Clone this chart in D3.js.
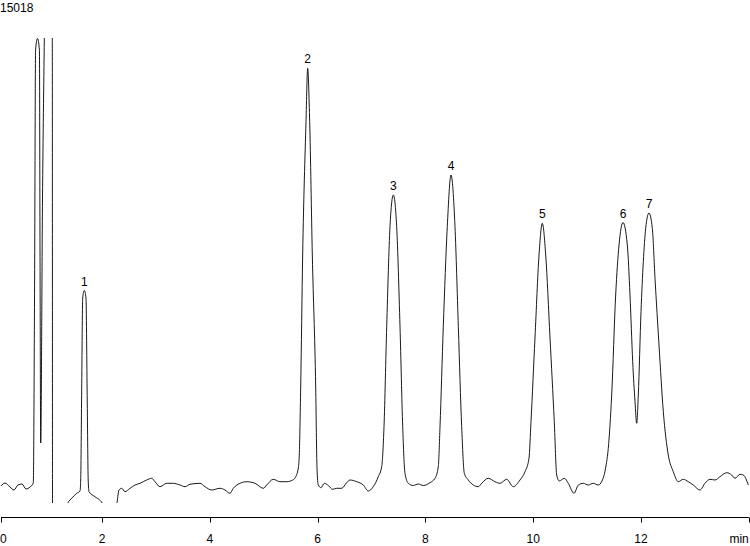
<!DOCTYPE html>
<html>
<head>
<meta charset="utf-8">
<script src="https://cdn.jsdelivr.net/npm/d3@7"></script>
<style>
  html, body { margin: 0; padding: 0; background: #fff; }
  svg { display: block; }
  text { font-family: "Liberation Sans", Arial, Helvetica, sans-serif; fill: #000; }
</style>
</head>
<body>
<svg id="chart" width="750" height="546"></svg>
<script>
// ---- Data ----
const sampleLabel = "15018";

// retention time (min)
const timeMin = [
  0.126, 0.200, 0.293, 0.367, 0.441, 0.516, 0.590, 0.664, 0.725,
  0.748, 0.768, 0.803, 0.839, 0.850, 0.863, 0.896, 0.930, 0.961, 1.045, 1.078,
  1.082, 1.184, 1.295, 1.364, 1.443, 1.531, 1.592,
  1.605, 1.623, 1.642, 1.672, 1.703, 1.724, 1.744, 1.759, 1.870, 2.006,
  2.074, 2.185, 2.273, 2.315, 2.366, 2.427, 2.520, 2.612, 2.705, 2.829,
  2.922, 2.983, 3.076, 3.200, 3.323, 3.447, 3.540, 3.633, 3.818, 3.911,
  4.035, 4.189, 4.282, 4.375, 4.436, 4.560, 4.685, 4.839, 4.993, 5.056,
  5.178, 5.302, 5.427, 5.538,
  5.581, 5.642, 5.660, 5.686, 5.723, 5.785, 5.816, 5.853, 5.902, 5.965,
  5.989, 6.013, 6.063, 6.124, 6.199, 6.280, 6.354, 6.447, 6.540, 6.601,
  6.725, 6.848, 6.940, 7.033, 7.126, 7.189,
  7.232, 7.282, 7.343, 7.405, 7.467, 7.529, 7.579, 7.621, 7.683, 7.776,
  7.868, 7.961, 8.085, 8.178, 8.239,
  8.271, 8.332, 8.406, 8.475, 8.549, 8.611, 8.673, 8.722, 8.796, 8.889,
  8.981, 9.044, 9.167, 9.291, 9.384, 9.508, 9.631, 9.755, 9.848,
  9.922, 9.959, 10.033, 10.108, 10.169, 10.232, 10.312, 10.391, 10.436, 10.484,
  10.577, 10.651, 10.757, 10.837, 10.929, 11.022, 11.115, 11.208,
  11.276, 11.350, 11.393, 11.456, 11.530, 11.592, 11.666, 11.746, 11.796, 11.846,
  11.889, 11.920, 11.950, 12.000, 12.043, 12.087, 12.148, 12.210, 12.260, 12.334,
  12.414, 12.506, 12.599, 12.692, 12.785, 12.877, 12.970, 13.095, 13.187, 13.280,
  13.373, 13.465, 13.590, 13.682, 13.744, 13.836, 13.898, 13.991
];

// detector signal (mV)
const signalMV = [
  7, 10, 6, 3, 8, 9, 4, 6, 10,
  193, 443, 454.5, 443, 243, 50, 293, 455, 593, 593, 455,
  -17, -37, -22, -10.3, -5, -0.3, 2,
  13, 103, 195, 202.5, 195, 103, 13, 1.3, -3.7, -10.3,
  -19, -21, -11.3, 3, 4.7, 1.3, 4.7, 8, 9.7, 13,
  14.7, 11.3, 6.3, 9.7, 9.7, 8, 6.3, 8.7, 9.7, 6.3,
  3, 4.7, 3, -0.3, 4.7, 9.7, 11.3, 9.7, 4.7, 8,
  13.7, 11.3, 11.3, 13,
  15, 25, 38, 105, 238, 371.3, 424.7, 371.3, 238, 105,
  25, 8, 5.3, 9.7, 7.5, 3.7, 4.7, 4.7, 10.3, 13,
  11.3, 8, 2, 6.3, 16.3, 26.3,
  66.3, 166.3, 266.3, 298, 266.3, 166.3, 66.3, 19.7, 9.7, 7.5,
  9, 7.5, 10.3, 14.7, 26.3,
  66.3, 166.3, 266.3, 318, 266.3, 166.3, 66.3, 19.7, 13, 8,
  6.3, 9.7, 14.7, 11.3, 9.7, 13.7, 6.3, 13, 21.3,
  34.7, 71.3, 155, 238, 269.7, 238, 155, 71.3, 18, 12,
  14.7, 9.7, -0.3, 8, 9.7, 8, 9.7, 8,
  12, 27, 44.7, 98, 198, 248, 270.5, 248, 198, 131.3,
  91.3, 69.7, 98, 181.3, 231.3, 264.7, 280, 264.7, 214.7, 148,
  81.3, 38, 21.3, 11.3, 13.7, 11.3, 8, 3, 9.7, 13.7,
  13, 16.3, 20.3, 18, 14.7, 18.7, 18, 8
];

// numbered peaks
const peakNames = ["1", "2", "3", "4", "5", "6", "7"];
const peakTimes = [1.672, 5.816, 7.405, 8.475, 10.169, 11.666, 12.148];
const peakSignals = [202.5, 424.7, 298, 318, 269.7, 270.5, 280];

// axis
const xTickValues = [0, 2, 4, 6, 8, 10, 12, 14];
const xTickLabels = ["0", "2", "4", "6", "8", "10", "12", "min"];
const axisStartMin = 0.126;

// ---- Layout ----
const W = 750, H = 546;
const svg = d3.select("#chart");

const x = d3.scaleLinear().domain([0, 14]).range([-5.8, 748.8]);
const y = d3.scaleLinear().domain([-10, 455]).range([503, 38]);

const trace = timeMin.map((t, i) => ({ t, v: signalMV[i] }));

svg.append("defs").append("clipPath").attr("id", "plotClip")
  .append("rect")
  .attr("x", 0).attr("y", y(455))
  .attr("width", W).attr("height", y(-10) - y(455));

// sample label
svg.append("text")
  .attr("x", 0).attr("y", 12)
  .attr("font-size", 12)
  .text(sampleLabel);

// chromatogram trace
const line = d3.line()
  .x(d => x(d.t))
  .y(d => y(d.v))
  .curve(d3.curveMonotoneX);

svg.append("path")
  .datum(trace)
  .attr("clip-path", "url(#plotClip)")
  .attr("fill", "none")
  .attr("stroke", "#000")
  .attr("stroke-width", 0.9)
  .attr("stroke-linejoin", "round")
  .attr("d", line);

// peak labels
svg.append("g").selectAll("text")
  .data(peakNames)
  .join("text")
  .attr("x", (d, i) => x(peakTimes[i]))
  .attr("y", (d, i) => y(peakSignals[i]) - 5)
  .attr("text-anchor", "middle")
  .attr("font-size", 12)
  .text(d => d);

// x axis
const axisY = 517.5;
const ax = svg.append("g");
ax.append("line")
  .attr("x1", x(axisStartMin)).attr("x2", x(14))
  .attr("y1", axisY).attr("y2", axisY)
  .attr("stroke", "#000").attr("stroke-width", 1);

const tickX = v => Math.max(x(v), x(axisStartMin));
ax.selectAll("line.tick")
  .data(xTickValues)
  .join("line")
  .attr("class", "tick")
  .attr("x1", d => Math.round(tickX(d)) + 0.5)
  .attr("x2", d => Math.round(tickX(d)) + 0.5)
  .attr("y1", axisY)
  .attr("y2", axisY + 5)
  .attr("stroke", "#000").attr("stroke-width", 1);

const lastTick = xTickValues.length - 1;
ax.selectAll("text")
  .data(xTickValues)
  .join("text")
  .attr("x", (d, i) => i === 0 ? 0 : tickX(d))
  .attr("y", 543)
  .attr("font-size", 12)
  .attr("text-anchor", (d, i) => i === 0 ? "start" : (i === lastTick ? "end" : "middle"))
  .text((d, i) => xTickLabels[i]);
</script>
</body>
</html>
